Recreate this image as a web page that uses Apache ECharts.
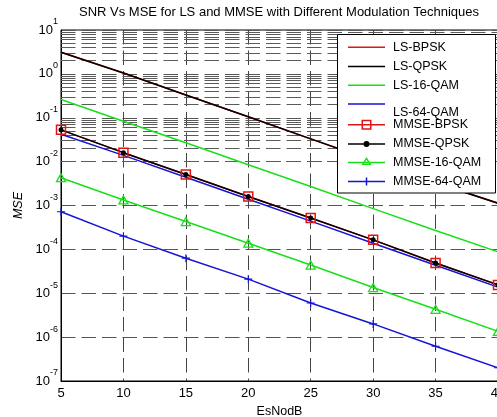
<!DOCTYPE html>
<html>
<head>
<meta charset="utf-8">
<script src="https://cdn.jsdelivr.net/npm/echarts@6/dist/echarts.min.js"></script>
<style>
  html, body { margin: 0; padding: 0; background: #fff; }
  #chart { width: 497px; height: 417px; }
</style>
</head>
<body>
<div id="chart"></div>
<script>
// Eb/No sweep (dB) and the measured mean squared error of each estimator
const snrDb = [5, 10, 15, 20, 25, 30, 35, 40];

const lsBpsk   = [3.1, 1.05, 0.33, 0.105, 0.033, 0.0105, 0.0033, 0.00113];
const lsQpsk   = [3.1, 1.05, 0.33, 0.105, 0.033, 0.0105, 0.0033, 0.00113];
const ls16Qam  = [0.26, 0.083, 0.027, 0.0085, 0.0027, 0.00085, 0.00027, 0.000088];
const ls64Qam  = [0.042, 0.0139, 0.0044, 0.00139, 0.00044, 0.000138, 0.0000435, 0.0000138];
const mmseBpsk = [0.053, 0.016, 0.0051, 0.0016, 0.00052, 0.000165, 0.000049, 0.0000155];
const mmseQpsk = [0.053, 0.016, 0.0051, 0.0016, 0.00052, 0.000165, 0.000049, 0.0000155];
const mmse16Qam = [0.0043, 0.00134, 0.00043, 0.000138, 0.000044, 0.0000135, 0.0000043, 0.00000135];
const mmse64Qam = [0.00072, 0.0002, 0.000063, 0.000021, 0.000006, 0.000002, 0.00000062, 0.0000002];

// axis ranges
const yDecades = [-7, -6, -5, -4, -3, -2, -1, 0, 1];
const minorSteps = [2, 3, 4, 5, 6, 7, 8, 9];

const RED = '#e01515', BLACK = '#000000', GREEN = '#18e018', BLUE = '#1414d8';
const FONT = '"Liberation Sans", Arial, sans-serif';

const pts = ys => snrDb.map((x, i) => [x, ys[i]]);

// minor log grid values (2..9 x 10^k)
const minorGrid = [];
yDecades.slice(0, -1).forEach(e => minorSteps.forEach(m => minorGrid.push({ yAxis: m * Math.pow(10, e) })));

const dash = [14.5, 6];
const plusPath = 'path://M4.3,0H5.7V4.3H10V5.7H5.7V10H4.3V5.7H0V4.3H4.3Z';

// legend icons: a 37-wide sample line with the series marker, inside a box
// whose height is pinned by two tiny corner specks
const speck = h => ' M0,0L0.01,0L0,0.01Z M0,' + h + 'L0.01,' + h + 'L0,' + (h - 0.01) + 'Z';
const bar = 'M0,6.25H37V7.75H0Z';
const icons = {
  line: 'path://' + bar + speck(14),
  line64: 'path://' + bar + speck(31),
  square: 'path://' + bar + ' M13.5,2H23.5V12H13.5Z M15,3.5V10.5H22V3.5Z' + speck(14),
  dot: 'path://' + bar + ' M15.5,7A3,3 0 1 1 21.5,7A3,3 0 1 1 15.5,7Z' + speck(14),
  tri: 'path://' + bar + ' M18.5,1.5L23.5,9.5H13.5Z M18.5,4.2L15.9,8.3H21.1Z' + speck(14),
  plus: 'path://' + bar + ' M17.75,3H19.25V11H17.75Z' + speck(14)
};

const legendRows = [
  { name: 'LS-BPSK', icon: icons.line, color: RED, y: 47.3 },
  { name: 'LS-QPSK', icon: icons.line, color: BLACK, y: 66.5 },
  { name: 'LS-16-QAM', icon: icons.line, color: GREEN, y: 85.3 },
  { name: 'LS-64-QAM', icon: icons.line64, color: BLUE, y: 104, h: 31 },
  { name: 'MMSE-BPSK', icon: icons.square, color: RED, y: 124.7 },
  { name: 'MMSE-QPSK', icon: icons.dot, color: BLACK, y: 144 },
  { name: 'MMSE-16-QAM', icon: icons.tri, color: GREEN, y: 162.5 },
  { name: 'MMSE-64-QAM', icon: icons.plus, color: BLUE, y: 181.5 }
];

const legends = legendRows.map(r => ({
  data: [{ name: r.name, icon: r.icon, itemStyle: { color: r.color, borderWidth: 0 } }],
  left: 348,
  top: r.y - 7,
  itemWidth: 37,
  itemHeight: r.h || 14,
  padding: 0,
  selectedMode: false,
  itemStyle: { borderWidth: 0 },
  textStyle: {
    fontFamily: FONT, fontSize: 12.5, color: '#000', lineHeight: 14,
    padding: [0, 0, 0, 3]
  },
  z: 8
}));

const lineSeries = (name, data, color, extra) => Object.assign({
  name, type: 'line', data: pts(data), color,
  symbol: 'none',
  lineStyle: { color, width: 1.5 },
  emphasis: { disabled: true },
  silent: true
}, extra || {});

const option = {
  animation: false,
  backgroundColor: '#fff',
  title: {
    text: 'SNR Vs MSE for LS and MMSE with Different Modulation Techniques',
    left: 279, top: 6, padding: 0, textAlign: 'center',
    textStyle: { fontFamily: FONT, fontSize: 13, fontWeight: 'normal', color: '#000' }
  },
  legend: legends,
  grid: {
    left: 61, top: 30, right: -1, bottom: 36,
    show: true, borderColor: '#000', borderWidth: 1,
    containLabel: false, outerBoundsMode: 'none'
  },
  xAxis: {
    type: 'value', min: 5, max: 40, interval: 5,
    name: 'EsNodB', nameLocation: 'middle', nameGap: 21,
    nameTextStyle: { fontFamily: FONT, fontSize: 12.5, color: '#000' },
    axisLine: { show: true, lineStyle: { color: '#000', width: 1 } },
    axisTick: { show: false },
    axisLabel: { fontFamily: FONT, fontSize: 13, color: '#000', margin: 6 },
    splitLine: { show: true, lineStyle: { color: '#444', width: 1, type: dash } }
  },
  yAxis: {
    type: 'log', logBase: 10, min: 1e-7, max: 10, splitNumber: 8,
    name: 'MSE', nameLocation: 'middle', nameGap: 33,
    nameTextStyle: { fontFamily: FONT, fontSize: 12.5, fontStyle: 'italic', color: '#000' },
    axisLine: { show: true, lineStyle: { color: '#000', width: 1 } },
    axisTick: { show: false },
    axisLabel: {
      margin: 3,
      formatter: v => '{b|10}{s|' + Math.round(Math.log10(v)) + '}',
      rich: {
        b: { fontFamily: FONT, fontSize: 13, color: '#000', lineHeight: 13, verticalAlign: 'middle' },
        s: { fontFamily: FONT, fontSize: 9, color: '#000', lineHeight: 9, verticalAlign: 'middle', padding: [0, 0, 16, 0] }
      }
    },
    splitLine: { show: true, lineStyle: { color: '#555', width: 1, type: dash } }
  },
  series: [
    {
      type: 'line', data: [], z: 1, silent: true,
      markLine: {
        z: 1, silent: true, animation: false, symbol: ['none', 'none'],
        label: { show: false },
        lineStyle: { color: '#5a5a5a', width: 1, type: dash },
        data: minorGrid
      }
    },
    lineSeries('LS-BPSK', lsBpsk, RED),
    lineSeries('LS-QPSK', lsQpsk, BLACK),
    lineSeries('LS-16-QAM', ls16Qam, GREEN),
    lineSeries('LS-64-QAM', ls64Qam, BLUE),
    lineSeries('MMSE-BPSK', mmseBpsk, RED, {
      symbol: 'rect', symbolSize: 9, showSymbol: true,
      itemStyle: { color: 'rgba(0,0,0,0)', borderColor: RED, borderWidth: 1.5 }
    }),
    lineSeries('MMSE-QPSK', mmseQpsk, BLACK, {
      symbol: 'circle', symbolSize: 5, showSymbol: true,
      itemStyle: { color: BLACK }
    }),
    lineSeries('MMSE-16-QAM', mmse16Qam, GREEN, {
      symbol: 'triangle', symbolSize: [9, 8], showSymbol: true,
      itemStyle: { color: 'rgba(0,0,0,0)', borderColor: GREEN, borderWidth: 1.3 }
    }),
    lineSeries('MMSE-64-QAM', mmse64Qam, BLUE, {
      symbol: plusPath, symbolSize: 8, showSymbol: true,
      itemStyle: { color: BLUE }
    })
  ],
  graphic: [{
    type: 'rect', z: 7, silent: true,
    shape: { x: 337.5, y: 34.5, width: 158, height: 158.5 },
    style: { fill: '#fff', stroke: '#000', lineWidth: 1 }
  }]
};

const chart = echarts.init(document.getElementById('chart'), null, { renderer: 'canvas' });
chart.setOption(option);
</script>
</body>
</html>
